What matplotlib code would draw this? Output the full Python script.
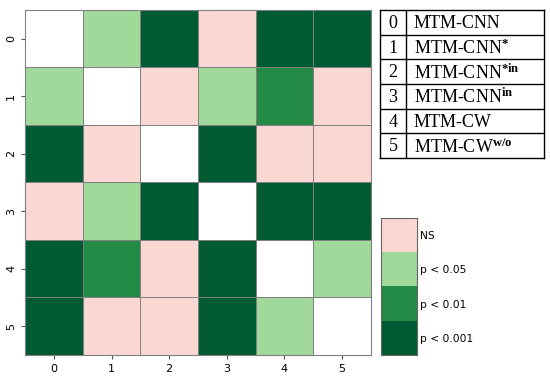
import numpy as np
import matplotlib
matplotlib.use("Agg")
import matplotlib.pyplot as plt
from matplotlib.colors import ListedColormap, BoundaryNorm

# significance codes: -1 diagonal, 0 NS, 1 p<0.001, 2 p<0.01, 3 p<0.05
sig = np.array([
    [-1, 3, 1, 0, 1, 1],
    [3, -1, 0, 3, 2, 0],
    [1, 0, -1, 1, 0, 0],
    [0, 3, 1, -1, 1, 1],
    [1, 2, 0, 1, -1, 3],
    [1, 0, 0, 1, 3, -1],
])
tick_labels = ["0", "1", "2", "3", "4", "5"]
cbar_labels = ["p < 0.001", "p < 0.01", "p < 0.05", "NS"]
model_ids = ["0", "1", "2", "3", "4", "5"]
model_names = [r"MTM-CNN", r"MTM-CNN$^{\mathbf{*}}$", r"MTM-CNN$^{\mathbf{*in}}$",
               r"MTM-CNN$^{\mathbf{in}}$", r"MTM-CW", r"MTM-CW$^{\mathbf{w/o}}$"]

plt.rcParams['mathtext.fontset'] = 'custom'
plt.rcParams['mathtext.rm'] = 'Liberation Serif'
plt.rcParams['mathtext.bf'] = 'Liberation Serif:bold'
plt.rcParams['mathtext.it'] = 'Liberation Serif:italic'

colors = ['#ffffff', '#fbd7d4', '#005a32', '#238b45', '#a1d99b']
cmap = ListedColormap(colors)
norm = BoundaryNorm([-1.5, -0.5, 0.5, 1.5, 2.5, 3.5], cmap.N)

fig = plt.figure(figsize=(5.5, 3.77), dpi=100)

#### heatmap ###############################################################
ax = fig.add_axes([0.0455, 0.0584, 0.629, 0.9151])
n = sig.shape[0]
ax.pcolormesh(np.arange(n + 1), np.arange(n + 1), sig, cmap=cmap, norm=norm,
              edgecolors='0.5', linewidth=0.6)
ax.set_xlim(0, n)
ax.set_ylim(n, 0)
ax.set_xticks(np.arange(n) + 0.5)
ax.set_yticks(np.arange(n) + 0.5)
ax.set_xticklabels(tick_labels, fontsize=8)
ax.set_yticklabels(tick_labels, fontsize=8, rotation=90, va='center')
ax.tick_params(length=3, color='0.3')
for s in ax.spines.values():
    s.set_color('0.5')

#### colorbar ##############################################################
cax = fig.add_axes([0.6927, 0.0584, 0.0655, 0.3634])
bar_cols = [colors[2], colors[3], colors[4], colors[1]]
for i, c in enumerate(bar_cols):
    cax.bar(0.5, 1, bottom=i, width=1, color=c)
cax.set_xlim(0, 1)
cax.set_ylim(0, len(bar_cols))
cax.set_xticks([])
cax.yaxis.tick_right()
cax.set_yticks(np.arange(len(cbar_labels)) + 0.5)
cax.set_yticklabels(cbar_labels, fontsize=7.7)
cax.tick_params(length=0, pad=2)
for s in cax.spines.values():
    s.set_color('0.4')

#### legend table ##########################################################
tax = fig.add_axes([0.6909, 0.5809, 0.298, 0.3926])
tax.set_xlim(0, 164)
tax.set_ylim(len(model_ids), 0)
tax.set_xticks([])
tax.set_yticks([])
for s in tax.spines.values():
    s.set_color('black')
    s.set_linewidth(1)
tax.axvline(26, color='black', lw=1)
for i in range(1, len(model_ids)):
    tax.axhline(i, color='black', lw=1)
for i, (mid, name) in enumerate(zip(model_ids, model_names)):
    tax.text(13, i + 0.55, mid, ha='center', va='center', fontsize=13,
             family='Liberation Serif')
    tax.text(34, i + 0.55, name, ha='left', va='center', fontsize=13,
             family='Liberation Serif')

plt.savefig("out.png", dpi=100)
